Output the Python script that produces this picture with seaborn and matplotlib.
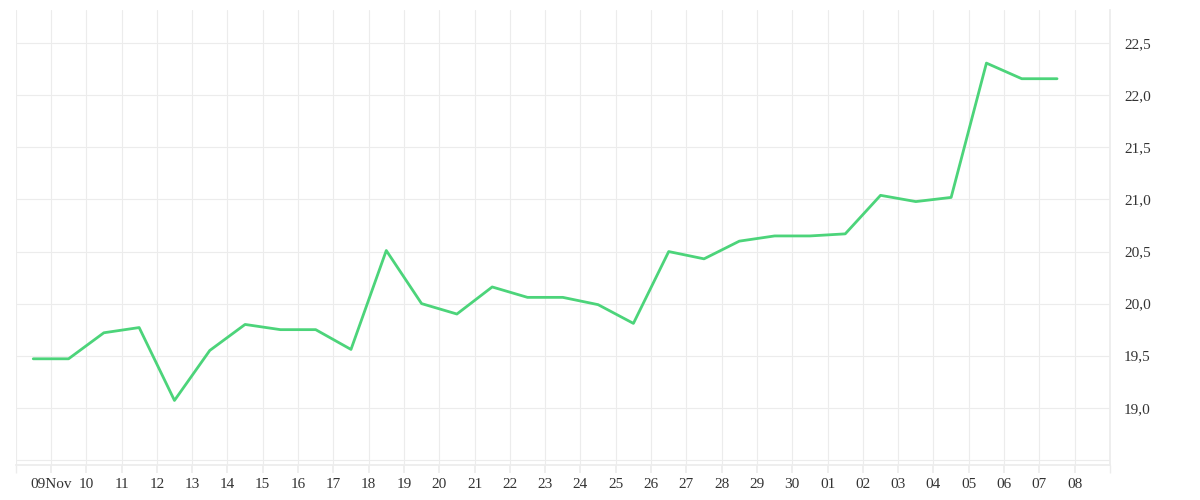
import matplotlib
matplotlib.use("Agg")
import matplotlib.pyplot as plt
import matplotlib.dates as mdates
import matplotlib.ticker as mticker
import seaborn as sns
import pandas as pd

values = [19.47,19.47,19.72,19.77,19.07,19.55,19.80,19.75,19.75,19.56,20.51,20.00,19.90,20.16,20.06,
          20.06,19.99,19.81,20.50,20.43,20.60,20.65,20.65,20.67,21.04,20.98,21.02,22.31,22.16,22.16]
dates = pd.date_range("2023-11-08 12:00", periods=len(values), freq="D")
tick_dates = pd.date_range("2023-11-09", "2023-12-08", freq="D")
tick_labels = ["09Nov"] + [d.strftime("%d") for d in tick_dates[1:]]

df = pd.DataFrame({"date": dates, "value": values})

sns.set_theme(style="white")
plt.rcParams['font.family'] = ['Liberation Serif', 'DejaVu Serif']
fig = plt.figure(figsize=(12, 5), dpi=100)
ax = fig.add_axes([0.013, 0.07, 0.912, 0.91])
sns.lineplot(data=df, x="date", y="value", ax=ax, color="#4cd47a", linewidth=2)

ax.set_xlim(pd.Timestamp("2023-11-08"), pd.Timestamp("2023-12-09"))
ax.set_ylim(18.45, 22.82)
ax.set_xticks(tick_dates)
ax.set_xticklabels(tick_labels)
ax.set_xticks(pd.date_range("2023-11-08", "2023-12-09", freq="D"), minor=True)
ax.yaxis.set_major_locator(mticker.MultipleLocator(0.5))
ax.yaxis.set_major_formatter(mticker.FuncFormatter(lambda v, p: f"{v:.1f}".replace(".", ",") if v >= 18.9 else ""))
ax.yaxis.tick_right()
ax.grid(True, which="major", color="#ececec", linewidth=0.8)
ax.grid(True, which="minor", axis="x", color="#ececec", linewidth=0.8)
for s in ["top", "left", "right"]:
    ax.spines[s].set_visible(False)
ax.spines["bottom"].set_color("#ececec")
ax.spines["right"].set_visible(True)
ax.spines["right"].set_color("#ececec")
ax.tick_params(axis="x", which="both", length=6, color="#ececec", labelsize=11, labelcolor="#333333", bottom=True)
ax.tick_params(axis="y", length=0, labelsize=11, labelcolor="#333333", pad=10)
ax.set_xlabel("")
ax.set_ylabel("")
fig.savefig("out.png")
